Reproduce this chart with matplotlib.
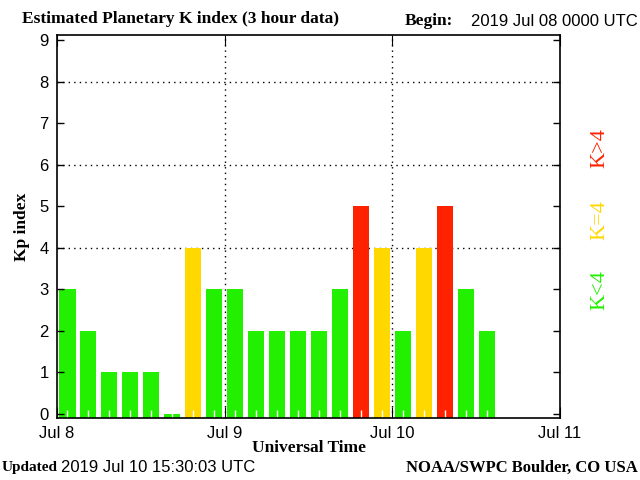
import numpy as np
import matplotlib
matplotlib.use('Agg')
import matplotlib.pyplot as plt

# Kp values, one per 3 hour slot starting 2019 Jul 08 00 UTC
kp = [3, 2, 1, 1, 1, 0, 4, 3, 3, 2, 2, 2, 2, 3, 5, 4, 2, 4, 5, 3, 2]
day_labels = ['Jul 8', 'Jul 9', 'Jul 10', 'Jul 11']

GREEN = '#22f000'
YELLOW = '#ffd800'
RED = '#ff2200'

def kp_colour(k):
    if k < 4:
        return GREEN
    if k == 4:
        return YELLOW
    return RED

fig = plt.figure(figsize=(6.4, 4.8), dpi=100)
ax = fig.add_axes([57/640, 1-418/480, 503/640, 383/480])

ybot = -0.1
hours = np.arange(len(kp)) * 3 + 1.5
heights = np.array(kp) - ybot
ax.bar(hours, heights, width=2.3, bottom=ybot,
       color=[kp_colour(k) for k in kp], zorder=1)

ax.set_xlim(0, 72)
ax.set_ylim(ybot, 9.12)

# dotted grid
for y in [4, 6, 8]:
    ax.axhline(y, color='black', ls=(0, (1, 3)), lw=1, zorder=0.5)
for x in [24, 48]:
    ax.axvline(x, color='black', ls=(0, (1, 3)), lw=1, zorder=0.5)

ax.set_yticks(range(10))
ax.set_xticks([0, 24, 48, 72])
ax.set_xticklabels(day_labels)
ax.set_xticks(hours, minor=True)
ax.tick_params(axis='y', direction='in', length=5, width=1, left=True, right=True,
               labelsize=12, pad=6)
ax.tick_params(axis='x', which='major', direction='in', length=8, top=True, bottom=True,
               labelsize=12, pad=6)
ax.tick_params(axis='x', which='minor', direction='in', length=6, color='white',
               width=1, bottom=True, top=False)
for lab in ax.get_xticklabels() + ax.get_yticklabels():
    lab.set_family('Liberation Sans')
for s in ax.spines.values():
    s.set_linewidth(1.2)

serif = 'Liberation Serif'
ax.set_ylabel('Kp index', family=serif, weight='bold', fontsize=12.5)
ax.yaxis.set_label_coords(-27/503, 0.5)
ax.set_xlabel('Universal Time', family=serif, weight='bold', fontsize=12.5)
ax.xaxis.set_label_coords(0.5, -22/383)

fig.text(22/640, 1-19/480, 'Estimated Planetary K index (3 hour data)',
         family=serif, weight='bold', fontsize=12.5, va='center', ha='left')
fig.text(405/640, 1-21/480, 'Begin:', family=serif, weight='bold', fontsize=12.5,
         va='center', ha='left')
fig.text(638/640, 1-21/480, '2019 Jul 08 0000 UTC', family='Liberation Sans',
         fontsize=12, va='center', ha='right')
fig.text(2/640, 1-468/480, 'Updated', family=serif, weight='bold', fontsize=11,
         va='center', ha='left')
fig.text(61/640, 1-468/480, '2019 Jul 10 15:30:03 UTC', family='Liberation Sans',
         fontsize=12, va='center', ha='left')
fig.text(638/640, 1-468/480, 'NOAA/SWPC Boulder, CO USA', family=serif, weight='bold',
         fontsize=12, va='center', ha='right')

for txt, col, yc in [('K<4', GREEN, 290), ('K=4', YELLOW, 220), ('K>4', RED, 148)]:
    fig.text(600/640, 1-yc/480, txt, color=col, family=serif, fontsize=16,
             rotation=90, va='center', ha='center')

fig.savefig('out.png', dpi=100)
